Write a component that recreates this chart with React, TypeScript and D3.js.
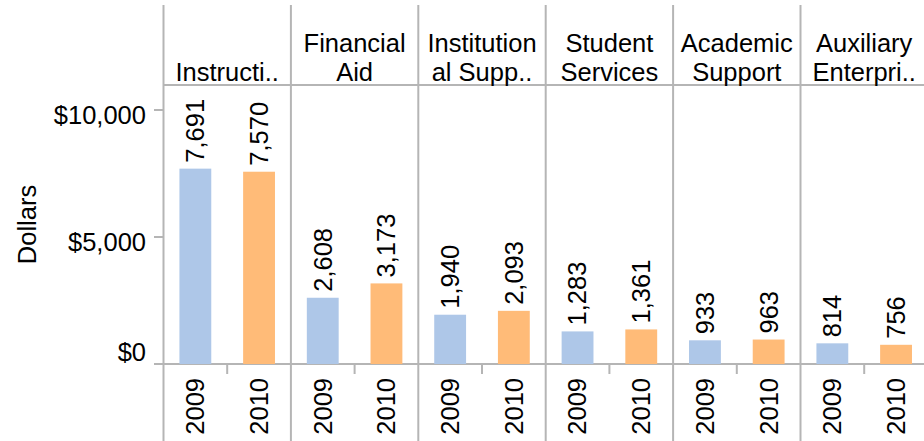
import React from "react";
import * as d3 from "d3";

// Spending per student by category, two fiscal years
const categories = [
  "Instruction",
  "Financial Aid",
  "Institutional Support",
  "Student Services",
  "Academic Support",
  "Auxiliary Enterprises",
];
const headerLines = [
  ["Instructi.."],
  ["Financial", "Aid"],
  ["Institution", "al Supp.."],
  ["Student", "Services"],
  ["Academic", "Support"],
  ["Auxiliary", "Enterpri.."],
];
const years = ["2009", "2010"];
const values2009 = [7691, 2608, 1940, 1283, 933, 814];
const values2010 = [7570, 3173, 2093, 1361, 963, 756];
const yTicks = [0, 5000, 10000];
const yTickLabels = ["$0", "$5,000", "$10,000"];
const yTitle = "Dollars";

const W = 924;
const H = 441;
const FONT = '"Liberation Sans", Arial, Helvetica, sans-serif';
const FONT_SIZE = 25.5;
const GRID = "#b5b5b5";
const COLORS: Record<string, string> = { "2009": "#aec7e8", "2010": "#ffbb78" };

const plotLeft = 163.5;
const panelW = 127.4;
const topY = 5;
const headerBottom = 85;
const zeroY = 364;

export default function App() {
  const xPanel = d3
    .scaleBand<string>()
    .domain(categories)
    .range([plotLeft, plotLeft + panelW * categories.length])
    .padding(0);
  const xYear = d3
    .scaleBand<string>()
    .domain(years)
    .range([0, panelW])
    .paddingInner(0.5)
    .paddingOuter(0.25);
  const y = d3.scaleLinear().domain([0, 10000]).range([zeroY, 110]);
  const fmt = d3.format(",");

  const series: Record<string, number[]> = { "2009": values2009, "2010": values2010 };

  return (
    <div style={{ position: "fixed", left: 0, top: 0, width: W, height: H, background: "#fff" }}>
      <svg width={W} height={H} style={{ display: "block", fontFamily: FONT }}>
        <rect width={W} height={H} fill="#fff" />

        {/* header separator */}
        <line x1={plotLeft} x2={W} y1={headerBottom} y2={headerBottom} stroke={GRID} strokeWidth={2} />

        {/* zero baseline */}
        <line x1={154} x2={W} y1={zeroY} y2={zeroY} stroke={GRID} strokeWidth={2} />

        {/* y-axis ticks and labels */}
        {yTicks.map((t, i) => {
          const ty = y(t);
          const labelY = Math.min(ty + 5, zeroY - 12);
          return (
            <g key={t}>
              <line x1={154} x2={plotLeft} y1={ty} y2={ty} stroke={GRID} strokeWidth={2} />
              <text x={146} y={labelY} dy="0.35em" textAnchor="end" fontSize={FONT_SIZE} fill="#000">
                {yTickLabels[i]}
              </text>
            </g>
          );
        })}

        <text
          transform={`translate(36, ${(headerBottom + zeroY) / 2}) rotate(-90)`}
          textAnchor="middle"
          fontSize={FONT_SIZE}
          fill="#000"
        >
          {yTitle}
        </text>

        {categories.map((c, ci) => {
          const px = xPanel(c)!;
          const lines = headerLines[ci];
          return (
            <g key={c}>
              {/* panel divider */}
              <line x1={px} x2={px} y1={topY} y2={H} stroke={GRID} strokeWidth={2} />
              {/* header text */}
              {lines.map((ln, li) => (
                <text
                  key={li}
                  x={px + panelW / 2}
                  y={81 - (lines.length - 1 - li) * 29}
                  textAnchor="middle"
                  fontSize={FONT_SIZE}
                  fill="#000"
                >
                  {ln}
                </text>
              ))}
              {/* mid-panel x tick */}
              <line
                x1={px + panelW / 2}
                x2={px + panelW / 2}
                y1={zeroY}
                y2={zeroY + 10}
                stroke={GRID}
                strokeWidth={2}
              />
              {years.map((yr) => {
                const v = series[yr][ci];
                const bx = px + xYear(yr)!;
                const bw = xYear.bandwidth();
                const cx = bx + bw / 2;
                const top = y(v);
                return (
                  <g key={yr}>
                    <rect x={bx} y={top} width={bw} height={zeroY - top} fill={COLORS[yr]} />
                    <text
                      transform={`translate(${cx}, ${top - 6}) rotate(-90)`}
                      dy="0.35em"
                      textAnchor="start"
                      fontSize={FONT_SIZE}
                      fill="#000"
                    >
                      {fmt(v)}
                    </text>
                    <text
                      transform={`translate(${cx}, 378) rotate(-90)`}
                      dy="0.35em"
                      textAnchor="end"
                      fontSize={FONT_SIZE}
                      fill="#000"
                    >
                      {yr}
                    </text>
                  </g>
                );
              })}
            </g>
          );
        })}
      </svg>
    </div>
  );
}
